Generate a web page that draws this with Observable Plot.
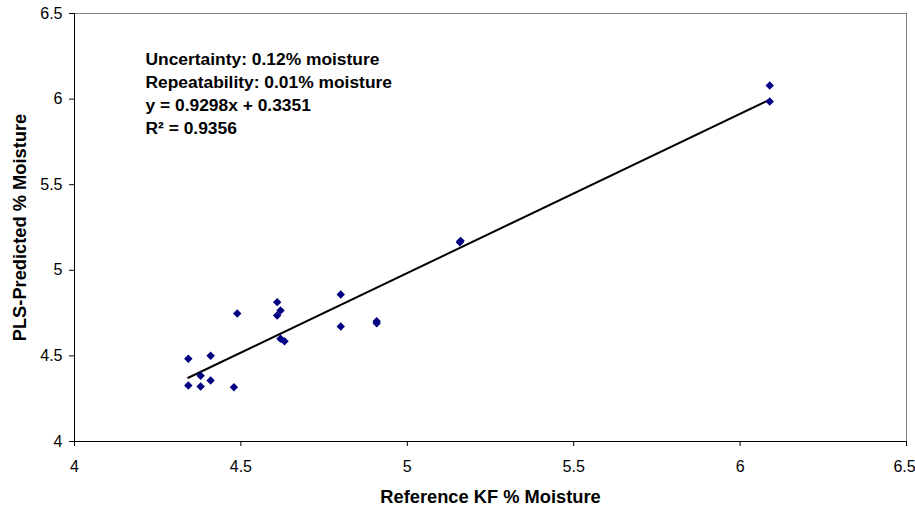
<!DOCTYPE html>
<html><head><meta charset="utf-8">
<script src="https://cdn.jsdelivr.net/npm/d3@7"></script>
<script src="https://cdn.jsdelivr.net/npm/@observablehq/plot@0.6"></script>
<style>
body{margin:0;background:#fff;font-family:"Liberation Sans",Arial,sans-serif;}
g[aria-label$="tick label"]{font-size:16px;}
</style></head><body><div id="chart"></div>
<script>
const refKF = [4.342,4.409,4.489,4.609,4.619,4.609,4.619,4.631,4.379,4.342,4.379,4.409,4.479,4.800,4.800,4.908,4.908,5.158,5.160,6.089,6.089];
const predicted = [4.483,4.501,4.748,4.814,4.765,4.736,4.600,4.586,4.384,4.327,4.321,4.356,4.317,4.859,4.672,4.703,4.691,5.164,5.172,6.079,5.986];
const slope = 0.9298, intercept = 0.3351;
const xTicks = [4,4.5,5,5.5,6,6.5];
const yTicks = [4,4.5,5,5.5,6,6.5];
const notes = ["Uncertainty: 0.12% moisture","Repeatability: 0.01% moisture","y = 0.9298x + 0.3351","R\u00B2 = 0.9356"];

const pts = refKF.map((x,i)=>({x, y:predicted[i]}));
const ext = d3.extent(refKF);
const fit = ext.map(x=>({x, y: slope*x+intercept}));
const lastX = xTicks[xTicks.length-1];

const chart = Plot.plot({
  width:915, height:508,
  marginLeft:74, marginRight:9, marginTop:13, marginBottom:67,
  style:{fontFamily:'"Liberation Sans",Arial,sans-serif', fontSize:"16px", color:"#000", background:"#fff"},
  x:{domain:[4,6.5], ticks:xTicks, tickFormat:d=>String(d), label:null},
  y:{domain:[4,6.5], ticks:yTicks, tickFormat:d=>String(d), label:null},
  marks:[
    Plot.frame({stroke:"#808080"}),
    Plot.axisX({ticks:xTicks, tickSize:5, tickPadding:14, tickFormat:d=>d===lastX?"":String(d), label:null, fontSize:16}),
    Plot.axisX({ticks:[lastX], tickSize:0, tickPadding:19, tickFormat:d=>String(d), label:null, fontSize:16, dx:-2}),
    Plot.axisY({ticks:yTicks, tickSize:5, tickPadding:7, tickFormat:d=>String(d), label:null, fontSize:16}),
    Plot.ruleX([4],{stroke:"#000"}),
    Plot.ruleY([4],{stroke:"#000"}),
    Plot.line(fit,{x:"x", y:"y", stroke:"#000", strokeWidth:2}),
    Plot.dot(pts,{x:"x", y:"y", symbol:"diamond2", r:3.8, fill:"#000080", stroke:"none"}),
    Plot.text([notes.join("\n")],{frameAnchor:"top-left", dx:71, dy:35, lineHeight:1.32, textAnchor:"start", fontWeight:"bold", fontSize:17.4, fill:"#000"}),
    Plot.text(["Reference KF % Moisture"],{frameAnchor:"bottom", dy:61, fontWeight:"bold", fontSize:18.3, fill:"#000"}),
    Plot.text(["PLS-Predicted % Moisture"],{frameAnchor:"left", dx:-54, rotate:-90, textAnchor:"middle", fontWeight:"bold", fontSize:18.3, fill:"#000"})
  ]
});
document.getElementById("chart").appendChild(chart);
</script></body></html>
